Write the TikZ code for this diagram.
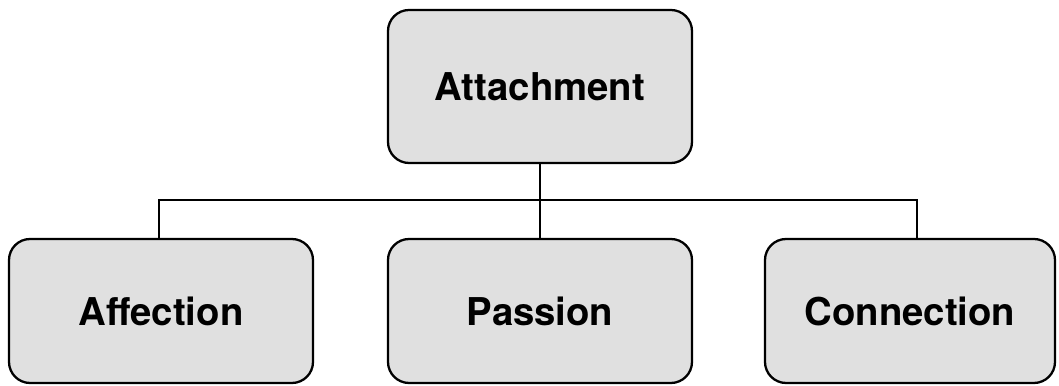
\documentclass[tikz,border=0pt]{standalone}
\usepackage{fontspec}
\setsansfont{TeX Gyre Heros}
\usepackage{xcolor}
\usetikzlibrary{positioning,calc}
\definecolor{boxgray}{HTML}{E0E0E0}
\tikzset{
  box/.style={rectangle, draw, line width=1.3pt, rounded corners=12pt, fill=boxgray,
              minimum width=6.08cm, minimum height=2.88cm, align=center,
              font=\sffamily\bfseries\fontsize{21.8}{26}\selectfont},
  link/.style={line width=0.8pt}
}

\begin{document}
\begin{tikzpicture}
  \useasboundingbox (0,0) rectangle (21.18,-7.72);
  \node[box, minimum height=3.06cm] (att) at (10.8,-1.73) {Attachment};
  \node[box] (aff) at (3.22,-6.22) {Affection};
  \node[box] (pas) at (10.8,-6.22) {Passion};
  \node[box, minimum width=5.8cm] (con) at (18.2,-6.22) {Connection};
  \coordinate (busL) at (3.18,-4.0);
  \coordinate (busR) at (18.34,-4.0);
  \draw[link, line width=1.3pt] (att.south) -- (pas.north);
  \draw[link] (busL |- aff.north) -- (busL) -- (busR) -- (busR |- con.north);
\end{tikzpicture}
\end{document}
